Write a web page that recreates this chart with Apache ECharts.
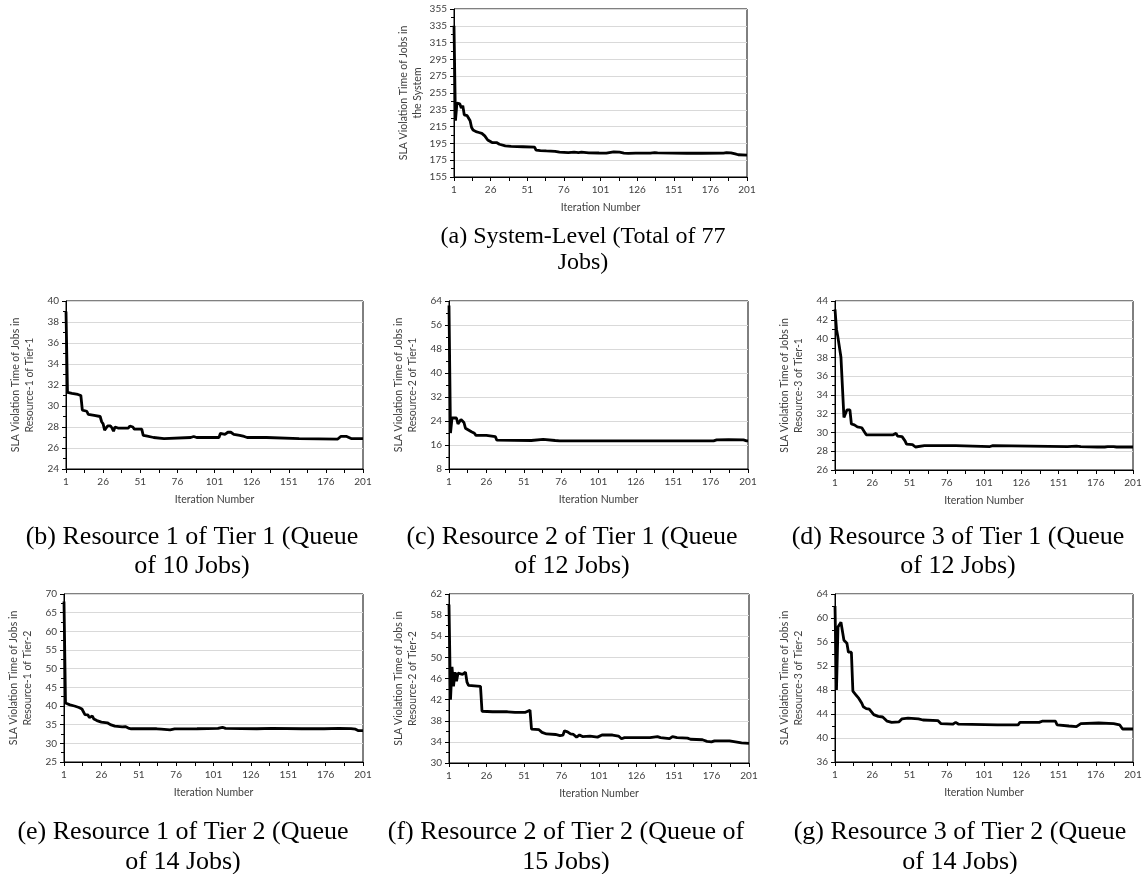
<!DOCTYPE html>
<html><head><meta charset="utf-8">
<script src="https://cdn.jsdelivr.net/npm/echarts@6/dist/echarts.min.js"></script>
<style>html,body{margin:0;padding:0;background:#fff}#c{width:1145px;height:874px}</style>
</head><body><div id="c"></div>
<script>
// ---- data: [iteration, SLA violation time] ----
const sysData = [[1,335],[2,222],[3,243],[4,241],[5,242],[6,237],[7,240],[8,229],[9,228],[10,228],[11,230],[12,222],[13,214],[14,211],[16,209],[18,208],[19,206],[20,207],[21,205],[22,204],[23,202],[24,199],[25,197],[27,196],[30,196],[31,195],[32,194],[33,192],[36,192],[40,191.5],[48,191],[56,190.5],[57,187],[60,186.5],[64,186],[70,185.5],[73,184.5],[79,184],[80,185],[83,184.5],[86,184],[88,184.5],[93,183.8],[100,183.6],[105,183.5],[106,184.8],[110,185],[114,184.5],[117,183.5],[120,183.2],[125,183.5],[135,183.5],[138,184],[140,183.8],[150,183.5],[160,183.3],[170,183.3],[185,183.5],[187,184],[190,183.8],[193,182.5],[195,181.5],[201,181]];
const r1t1Data = [[1,39],[2,31.3],[5,31.2],[9,31.1],[11,31.0],[12,29.6],[15,29.5],[16,29.2],[20,29.1],[21,29.0],[24,29.0],[25,28.5],[26,28.3],[27,27.7],[28,27.7],[29,28.1],[31,28.1],[32,27.9],[33,27.6],[34,28.0],[36,27.9],[43,27.9],[44,28.1],[46,28.0],[47,27.8],[52,27.8],[53,27.2],[55,27.15],[56,27.0],[60,27.0],[61,26.9],[67,26.9],[68,27.0],[85,27.0],[87,27.1],[89,27.0],[104,27.0],[105,27.4],[106,27.3],[108,27.3],[110,27.5],[112,27.5],[113,27.65],[114,27.3],[118,27.2],[121,27.1],[123,27.0],[136,27.0],[137,26.9],[158,26.9],[159,26.85],[184,26.85],[186,27.1],[190,27.1],[191,27.15],[193,26.9],[201,26.9]];
const r2t1Data = [[1,62.5],[2,20],[3,25],[6,25],[7,23],[8,22.8],[9,24.5],[10,24.8],[11,23.5],[12,21.6],[14,21],[16,20.4],[18,19.9],[19,19.2],[26,19.2],[27,18.8],[32,18.8],[33,17.6],[56,17.5],[57,17.9],[64,17.9],[65,17.6],[72,17.5],[73,17.7],[75,17.4],[178,17.4],[180,17.7],[188,17.8],[198,17.7],[200,17.4],[201,17.4]];
const r3t1Data = [[1,43.1],[2,41],[3,40.1],[4,40.0],[5,38.0],[6,38.0],[7,31.6],[8,31.6],[9,32.4],[11,32.4],[12,30.9],[14,30.8],[16,30.6],[19,30.5],[20,30.3],[21,30.0],[22,29.75],[40,29.75],[41,29.65],[42,29.9],[43,29.6],[46,29.55],[47,29.6],[48,29.1],[49,28.75],[53,28.7],[55,28.45],[56,28.6],[61,28.6],[62,28.5],[63,28.6],[82,28.6],[83,28.55],[105,28.5],[106,28.45],[107,28.6],[108,28.5],[157,28.5],[158,28.58],[163,28.55],[166,28.5],[177,28.45],[182,28.45],[184,28.5],[188,28.5],[190,28.45],[201,28.45]];
const r1t2Data = [[1,68],[2,40.8],[5,40.3],[8,40.0],[11,39.6],[13,39.2],[14,38.7],[15,37.7],[16,38.1],[17,37.6],[18,36.9],[19,37.2],[20,37.3],[21,36.5],[23,36.1],[26,35.7],[30,35.5],[32,35.0],[35,34.6],[40,34.4],[42,34.5],[44,34.1],[46,33.9],[63,33.9],[66,33.8],[72,33.6],[75,33.85],[90,33.9],[104,34.0],[107,34.3],[109,34.0],[130,33.9],[140,34.0],[160,33.9],[175,33.9],[185,34.0],[193,33.95],[196,33.8],[198,33.4],[201,33.4]];
const r2t2Data = [[1,60],[2,42],[3,48.2],[4,44.5],[5,47.2],[6,45.5],[7,47],[8,46.9],[10,46.8],[11,46.5],[12,47.2],[13,45.3],[14,44.7],[15,44.5],[22,44.5],[23,39.8],[30,39.7],[40,39.7],[45,39.6],[52,39.6],[55,40.0],[56,36.4],[61,36.3],[63,35.8],[66,35.5],[72,35.4],[75,35.2],[77,35.3],[78,36.1],[80,35.9],[82,35.5],[84,35.4],[86,34.9],[88,35.3],[90,35.0],[95,35.1],[100,34.9],[103,35.3],[110,35.3],[114,35.1],[116,34.6],[118,34.8],[135,34.8],[140,35.0],[142,34.8],[148,34.6],[150,35.0],[153,34.8],[160,34.7],[162,34.5],[170,34.4],[173,34.1],[176,34.0],[178,34.2],[188,34.2],[192,34.0],[196,33.8],[201,33.7]];
const r3t2Data = [[1,62],[2,48],[3,58.5],[4,58.8],[5,59.3],[6,59.3],[7,56.3],[9,55.8],[10,54.3],[12,54.3],[13,47.8],[15,47.2],[17,46.6],[19,45.8],[20,45.2],[22,44.9],[24,44.8],[27,43.9],[30,43.6],[33,43.5],[36,42.8],[39,42.6],[44,42.7],[46,43.2],[50,43.3],[57,43.2],[60,43.0],[70,42.9],[72,42.4],[80,42.3],[82,42.6],[84,42.3],[110,42.2],[124,42.2],[125,42.6],[138,42.6],[140,42.8],[149,42.8],[150,42.2],[158,42.0],[163,41.9],[164,41.7],[166,42.4],[178,42.5],[188,42.4],[192,42.2],[194,41.5],[201,41.5]];

// axis ranges [min, max, interval]
const yRanges = [[155,355,20],[24,40,2],[8,64,8],[26,44,2],[25,70,5],[30,62,4],[36,64,4]];
const xRange = [1,201,25];
const yNames = [
  'SLA Violation Time of Jobs in\nthe System',
  'SLA Violation Time of Jobs in\nResource-1 of Tier-1',
  'SLA Violation Time of Jobs in\nResource-2 of Tier-1',
  'SLA Violation Time of Jobs in\nResource-3 of Tier-1',
  'SLA Violation Time of Jobs in\nResource-1 of Tier-2',
  'SLA Violation Time of Jobs in\nResource-2 of Tier-2',
  'SLA Violation Time of Jobs in\nResource-3 of Tier-2'
];
const xName = 'Iteration Number';
const captions = [
  '(a) System-Level (Total of 77\nJobs)',
  '(b) Resource 1 of Tier 1 (Queue\nof 10 Jobs)',
  '(c) Resource 2 of Tier 1 (Queue\nof 12 Jobs)',
  '(d) Resource 3 of Tier 1 (Queue\nof 12 Jobs)',
  '(e) Resource 1 of Tier 2 (Queue\nof 14 Jobs)',
  '(f) Resource 2 of Tier 2 (Queue of\n15 Jobs)',
  '(g) Resource 3 of Tier 2 (Queue\nof 14 Jobs)'
];
const seriesData = [sysData, r1t1Data, r2t1Data, r3t1Data, r1t2Data, r2t2Data, r3t2Data];

// ---- layout ----
const grids = [
  {left:454, top:9,   width:293, height:168},
  {left:66,  top:301, width:297, height:168},
  {left:449, top:301, width:299, height:168},
  {left:835, top:301, width:298, height:169},
  {left:64,  top:594, width:299, height:168},
  {left:449, top:594, width:300, height:169},
  {left:835, top:594, width:298, height:168}
];
const capPos = [
  {x:583, y:250, lh:26, fs:24},
  {x:192, y:552, lh:29, fs:26},
  {x:572, y:552, lh:29, fs:26},
  {x:958, y:552, lh:29, fs:26},
  {x:183, y:847, lh:30, fs:26},
  {x:566, y:847, lh:30, fs:26},
  {x:960, y:847, lh:30, fs:26}
];

const tickFont = {fontFamily:'Lato', fontSize:10, color:'#404040'};
const option = {
  animation:false,
  backgroundColor:'#fff',
  grid: grids.map(g => Object.assign({show:true, borderColor:'#000', borderWidth:1, containLabel:false}, g)),
  xAxis: grids.map((g,i) => ({
    type:'value', gridIndex:i, min:xRange[0], max:xRange[1], interval:xRange[2],
    name:xName, nameLocation:'middle', nameGap:25,
    nameTextStyle:{fontFamily:'Lato', fontSize:10.5, color:'#404040'},
    axisLine:{show:true, lineStyle:{color:'#000', width:1}},
    axisTick:{show:true, length:4, lineStyle:{color:'#000'}},
    minorTick:{show:true, splitNumber:2, length:4, lineStyle:{color:'#000'}},
    axisLabel:Object.assign({margin:8}, tickFont),
    splitLine:{show:false}
  })),
  yAxis: grids.map((g,i) => ({
    type:'value', gridIndex:i, min:yRanges[i][0], max:yRanges[i][1], interval:yRanges[i][2],
    name:yNames[i], nameLocation:'middle', nameGap:29,
    nameTextStyle:{fontFamily:'Lato', fontSize:10.5, color:'#404040', lineHeight:14, align:'center'},
    axisLine:{show:true, lineStyle:{color:'#000', width:1}},
    axisTick:{show:true, length:4, lineStyle:{color:'#000'}},
    minorTick:{show:true, splitNumber:2, length:3, lineStyle:{color:'#000'}},
    axisLabel:Object.assign({margin:7}, tickFont),
    splitLine:{show:true, lineStyle:{color:'#d9d9d9', width:1}}
  })),
  series: seriesData.map((d,i) => ({
    type:'line', xAxisIndex:i, yAxisIndex:i, data:d, symbol:'none',
    lineStyle:{color:'#000', width:2.8}, clip:true
  })),
  graphic: captions.map((t,i) => ({
    type:'text', x:capPos[i].x, y:capPos[i].y,
    style:{text:t, textAlign:'center', textVerticalAlign:'middle',
      fontFamily:'Liberation Serif', fontSize:capPos[i].fs, lineHeight:capPos[i].lh, fill:'#000'}
  }))
};
const chart = echarts.init(document.getElementById('c'), null, {renderer:'canvas'});
chart.setOption(option);
</script></body></html>
